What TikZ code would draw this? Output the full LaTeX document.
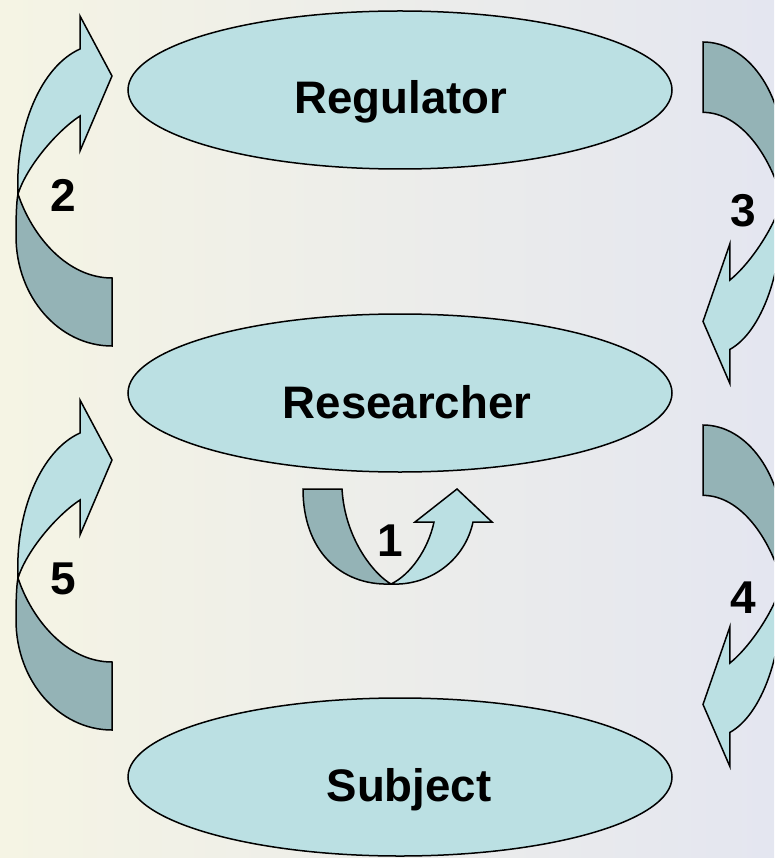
\documentclass[tikz,border=0pt]{standalone}
\usepackage{fontspec}
\setsansfont{Liberation Sans}
\usetikzlibrary{shapes.geometric}

\definecolor{bgleft}{RGB}{245,244,228}
\definecolor{bgright}{RGB}{228,230,240}
\definecolor{armlight}{RGB}{187,224,227}
\definecolor{armdark}{RGB}{148,179,182}

\tikzset{
	bubble/.style={ellipse, draw, line width=1.5pt, fill=armlight, minimum width=544pt, minimum height=158pt, inner sep=0pt},
	word/.style={font=\sffamily\bfseries\fontsize{45.6}{50}\selectfont, anchor=base, inner sep=0pt},
	num/.style={font=\sffamily\bfseries\fontsize{46}{50}\selectfont, inner sep=0pt},
	band/.style={draw, line width=1.5pt, line join=miter}
}

\newcommand{\bentarrow}{%
	\draw[band, fill=armdark] (0,0) .. controls (-53,0) and (-96,-49) .. (-96,-110) .. controls (-96,-130) and (-95.5,-145) .. (-94,-152) .. controls (-80,-110) and (-45,-68) .. (0,-68) -- cycle;
	\draw[band, fill=armlight] (-94,-152) .. controls (-97,-220) and (-70,-280) .. (-32,-297) -- (-32,-330) -- (0,-270) -- (-32,-195) -- (-32,-230) .. controls (-55,-215) and (-85,-180) .. (-94,-152) -- cycle;
}

\begin{document}
\begin{tikzpicture}[x=1pt, y=-1pt]
				\clip (0,0) rectangle (774,858);
				\fill[left color=bgleft, right color=bgright] (0,0) rectangle (774,858);
				
				\begin{scope}[shift={(112,346)}]
					\bentarrow
				\end{scope}
				\begin{scope}[shift={(112,730)}]
					\bentarrow
				\end{scope}
				\begin{scope}[shift={(703,42)}, xscale=-0.84, yscale=-1.035]
					\bentarrow
				\end{scope}
				\begin{scope}[shift={(703,425)}, xscale=-0.84, yscale=-1.035]
					\bentarrow
				\end{scope}
				
				\draw[band, fill=armdark] (303,489) .. controls (303,550) and (340,586) .. (391,584) .. controls (375,575) and (345,540) .. (342,489) -- cycle;
				\draw[band, fill=armlight] (391,584) .. controls (430,586) and (465,560) .. (473,522) -- (492,522) -- (457,489) -- (415,522) -- (434,522) .. controls (428,550) and (410,575) .. (391,584) -- cycle;
				
				\node[bubble] (regulator) at (400,90) {};
				\node[bubble] (researcher) at (400,393) {};
				\node[bubble] (subject) at (400,777) {};
				
				\node[word] (regulatorname) at ([shift={(1,24)}]regulator.center) {Regulator};
				\node[word] (researchername) at ([shift={(7,25)}]researcher.center) {Researcher};
				\node[word] (subjectname) at ([shift={(9,24)}]subject.center) {Subject};
				
				\node[num] (one) at (390,541) {1};
				\node[num] (two) at (63,195) {2};
				\node[num] (three) at (743,211) {3};
				\node[num] (four) at (743,598) {4};
				\node[num] (five) at (63,579) {5};
			\end{tikzpicture}
\end{document}
